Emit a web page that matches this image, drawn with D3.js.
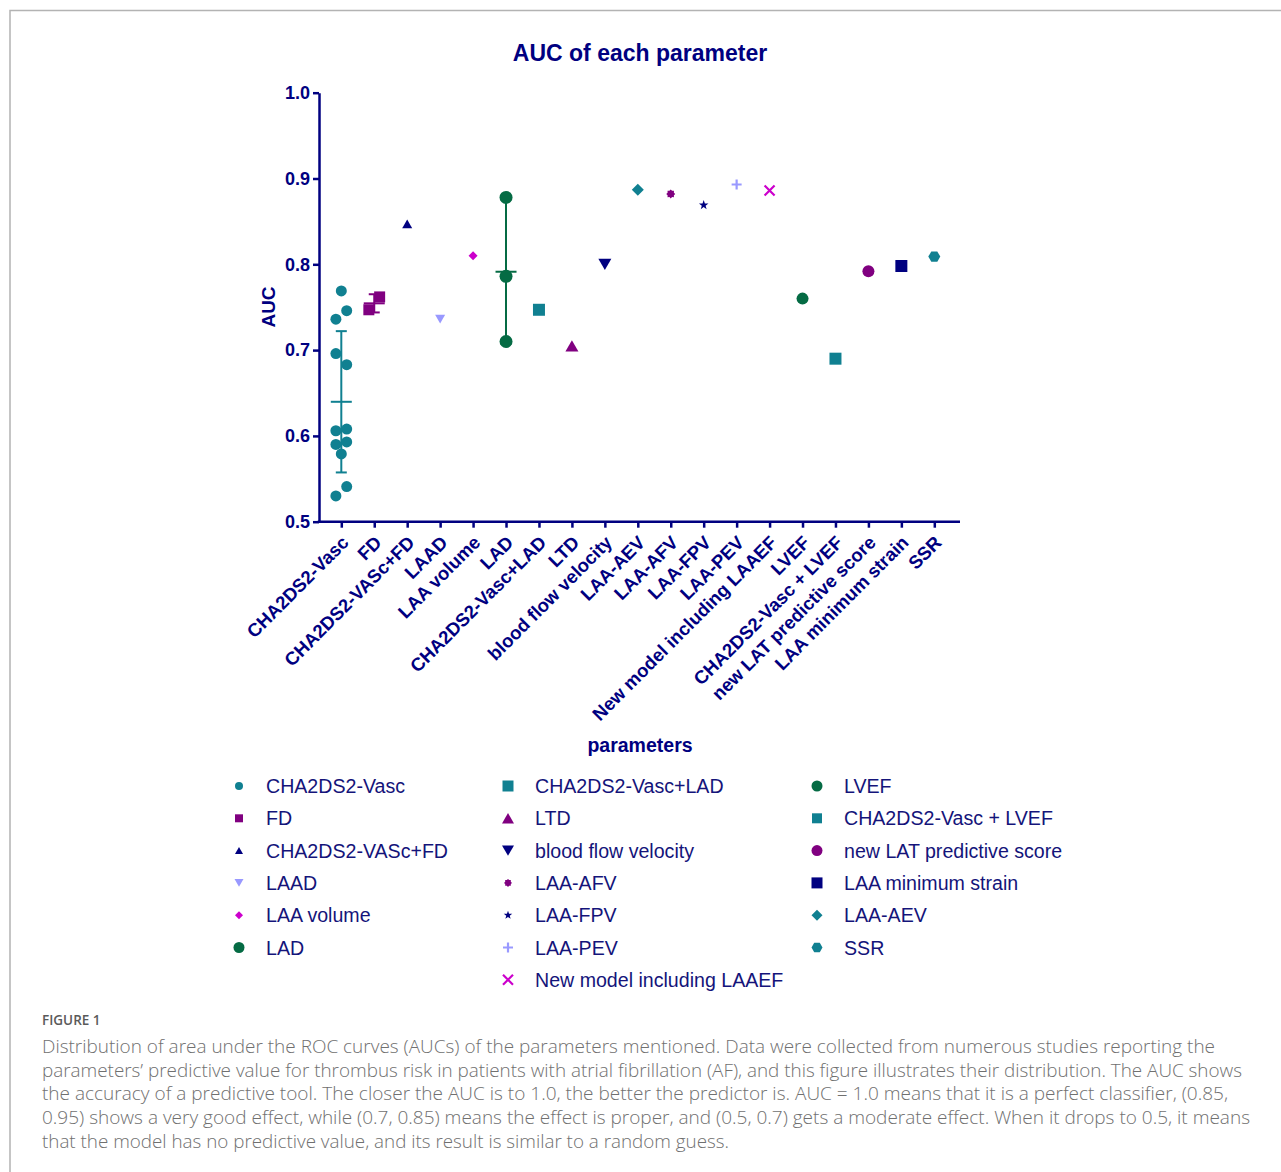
<!DOCTYPE html>
<html>
<head>
<meta charset="utf-8">
<script src="https://cdn.jsdelivr.net/npm/d3@7"></script>
<style>
  body { margin: 0; background: #fff; }
</style>
</head>
<body>
<svg width="1281" height="1172"></svg>
<script>
// parameters on the x axis
var params = ["CHA2DS2-Vasc", "FD", "CHA2DS2-VASc+FD", "LAAD", "LAA volume", "LAD",
  "CHA2DS2-Vasc+LAD", "LTD", "blood flow velocity", "LAA-AEV", "LAA-AFV", "LAA-FPV",
  "LAA-PEV", "New model including LAAEF", "LVEF", "CHA2DS2-Vasc + LVEF",
  "new LAT predictive score", "LAA minimum strain", "SSR"];

// AUC values, one list per parameter
var aucValues = [
  [0.769, 0.746, 0.736, 0.696, 0.683, 0.608, 0.606, 0.593, 0.590, 0.579, 0.541, 0.530],
  [0.747, 0.762],
  [0.847],
  [0.736],
  [0.810],
  [0.878, 0.786, 0.710],
  [0.747],
  [0.705],
  [0.800],
  [0.887],
  [0.882],
  [0.869],
  [0.893],
  [0.886],
  [0.760],
  [0.690],
  [0.792],
  [0.798],
  [0.809]
];

var yTicks = [0.5, 0.6, 0.7, 0.8, 0.9, 1.0];

// legend columns (legend order differs from axis order)
var legendCols = [
  ["CHA2DS2-Vasc", "FD", "CHA2DS2-VASc+FD", "LAAD", "LAA volume", "LAD"],
  ["CHA2DS2-Vasc+LAD", "LTD", "blood flow velocity", "LAA-AFV", "LAA-FPV", "LAA-PEV", "New model including LAAEF"],
  ["LVEF", "CHA2DS2-Vasc + LVEF", "new LAT predictive score", "LAA minimum strain", "LAA-AEV", "SSR"]
];

var captionLines = [
  "Distribution of area under the ROC curves (AUCs) of the parameters mentioned. Data were collected from numerous studies reporting the",
  "parameters\u2019 predictive value for thrombus risk in patients with atrial fibrillation (AF), and this figure illustrates their distribution. The AUC shows",
  "the accuracy of a predictive tool. The closer the AUC is to 1.0, the better the predictor is. AUC = 1.0 means that it is a perfect classifier, (0.85,",
  "0.95) shows a very good effect, while (0.7, 0.85) means the effect is proper, and (0.5, 0.7) gets a moderate effect. When it drops to 0.5, it means",
  "that the model has no predictive value, and its result is similar to a random guess."
];

// ---- styles ----
var navy = "#000080", teal = "#108091", purple = "#800080", lav = "#9999ff",
    mag = "#cc00cc", green = "#056b44";

// shape, colour, size in plot, size in legend
var styles = [
  ["circle", teal, 11, 8], ["square", purple, 11, 8], ["triUp", navy, 10, 8],
  ["triDown", lav, 10, 9], ["diamond", mag, 9, 8], ["circle", green, 13, 11],
  ["square", teal, 12, 11], ["triUp", purple, 13, 12], ["triDown", navy, 13, 12],
  ["diamond", teal, 12, 11], ["sun", purple, 9, 8], ["star", navy, 10, 9],
  ["plus", lav, 10, 10], ["x", mag, 10, 10], ["circle", green, 12, 11],
  ["square", teal, 12, 10], ["circle", purple, 12, 11], ["square", navy, 12, 11],
  ["hexagon", teal, 12, 11]
];
// sideways spread of the dots inside a column (in steps)
var jitter = { "CHA2DS2-Vasc": [0, 1, -1, -1, 1, 1, -1, 1, -1, 0, 1, -1], "FD": [-1, 1] };

function poly(ctx, pts) {
  ctx.moveTo(pts[0][0], pts[0][1]);
  for (var i = 1; i < pts.length; i++) ctx.lineTo(pts[i][0], pts[i][1]);
  ctx.closePath();
}
function radial(n, r1, r2, a0) {
  var pts = [];
  for (var i = 0; i < n; i++) {
    var a = a0 + i * Math.PI * 2 / n, r = (i % 2 && r2) ? r2 : r1;
    pts.push([r * Math.cos(a), r * Math.sin(a)]);
  }
  return pts;
}
var shapes = {
  circle: { draw: function (c, w) { c.moveTo(w / 2, 0); c.arc(0, 0, w / 2, 0, 2 * Math.PI); } },
  square: { draw: function (c, w) { c.rect(-w / 2, -w / 2, w, w); } },
  triUp: { draw: function (c, w) { var h = w * 0.87; poly(c, [[0, -h / 2], [w / 2, h / 2], [-w / 2, h / 2]]); } },
  triDown: { draw: function (c, w) { var h = w * 0.87; poly(c, [[0, h / 2], [w / 2, -h / 2], [-w / 2, -h / 2]]); } },
  diamond: { draw: function (c, w) { poly(c, [[0, -w / 2], [w / 2, 0], [0, w / 2], [-w / 2, 0]]); } },
  star: { draw: function (c, w) { poly(c, radial(10, w / 2, w / 5, -Math.PI / 2)); } },
  sun: { draw: function (c, w) { poly(c, radial(16, w / 2, w * 0.38, 0)); } },
  hexagon: { draw: function (c, w) { poly(c, radial(6, w / 2, 0, 0)); } },
  plus: { draw: function (c, w) { c.moveTo(-w / 2, 0); c.lineTo(w / 2, 0); c.moveTo(0, -w / 2); c.lineTo(0, w / 2); } },
  x: { draw: function (c, w) { var s = w / 2; c.moveTo(-s, -s); c.lineTo(s, s); c.moveTo(-s, s); c.lineTo(s, -s); } }
};
function mark(sel, st, w) {
  var stroked = st[0] === "plus" || st[0] === "x";
  sel.attr("d", d3.symbol().type(shapes[st[0]]).size(w)())
     .attr("fill", stroked ? "none" : st[1])
     .attr("stroke", stroked ? st[1] : "none")
     .attr("stroke-width", stroked ? 2.2 : 0);
}

var svg = d3.select("svg");
svg.append("path").attr("d", "M10,1172V10.5H1281").attr("fill", "none").attr("stroke", "#b3b3b3").attr("stroke-width", 1.5);

var x = d3.scalePoint().domain(params).range([341.3, 934.3]);
var y = d3.scaleLinear().domain([0.5, 1.0]).range([521.7, 92.7]);
var axisX0 = 319, axisX1 = 960;

svg.append("text").attr("x", 640).attr("y", 61).attr("text-anchor", "middle")
  .style("font", "bold 23px 'Liberation Sans', Arial, sans-serif").attr("fill", navy)
  .text("AUC of each parameter");

// y axis
var gy = svg.append("g").attr("transform", "translate(" + axisX0 + ",0)")
  .call(d3.axisLeft(y).tickValues(yTicks).tickFormat(d3.format(".1f")).tickSize(6).tickSizeOuter(0).tickPadding(3));
gy.select(".domain").attr("stroke", navy).attr("stroke-width", 2.5);
gy.selectAll(".tick line").attr("stroke", navy).attr("stroke-width", 2.5);
gy.selectAll(".tick text").attr("fill", navy).style("font", "bold 18px 'Liberation Sans', Arial, sans-serif");

// x axis
var gx = svg.append("g").attr("transform", "translate(0," + y(0.5) + ")")
  .call(d3.axisBottom(x).tickSize(6).tickSizeOuter(0));
gx.select(".domain").remove();
gx.append("line").attr("x1", axisX0 - 1.25).attr("x2", axisX1).attr("stroke", navy).attr("stroke-width", 2.5);
gx.selectAll(".tick line").attr("stroke", navy).attr("stroke-width", 2.5);
gx.selectAll(".tick text")
  .attr("y", 0).attr("dy", 0)
  .attr("text-anchor", "end")
  .attr("transform", "translate(8,22) rotate(-45)")
  .attr("fill", navy).style("font", "bold 18.5px 'Liberation Sans', Arial, sans-serif");

svg.append("text").attr("transform", "translate(275,307) rotate(-90)").attr("text-anchor", "middle")
  .style("font", "bold 19px 'Liberation Sans', Arial, sans-serif").attr("fill", navy).text("AUC");
svg.append("text").attr("x", 640).attr("y", 752).attr("text-anchor", "middle")
  .style("font", "bold 19.5px 'Liberation Sans', Arial, sans-serif").attr("fill", navy).text("parameters");

// error bars (mean +/- SD) for parameters with several studies
var plot = svg.append("g");
params.forEach(function (p, i) {
  var v = aucValues[i];
  if (v.length < 2) return;
  var m = d3.mean(v), sd = d3.deviation(v), cx = x(p), col = styles[i][1];
  var eb = plot.append("g").attr("stroke", col).attr("stroke-width", 2);
  eb.append("line").attr("x1", cx).attr("x2", cx).attr("y1", y(m - sd)).attr("y2", y(m + sd));
  eb.append("line").attr("x1", cx - 10.5).attr("x2", cx + 10.5).attr("y1", y(m)).attr("y2", y(m));
  [m - sd, m + sd].forEach(function (e) {
    eb.append("line").attr("x1", cx - 5.5).attr("x2", cx + 5.5).attr("y1", y(e)).attr("y2", y(e));
  });
});

// points
params.forEach(function (p, i) {
  var st = styles[i], jit = jitter[p] || [];
  plot.selectAll(null).data(aucValues[i]).enter().append("path")
    .attr("transform", function (d, k) { return "translate(" + (x(p) + (jit[k] || 0) * 5.4) + "," + y(d) + ")"; })
    .call(mark, st, st[2]);
});

// legend
var colX = [239, 508, 817];
legendCols.forEach(function (names, c) {
  names.forEach(function (name, r) {
    var i = params.indexOf(name), cy = 786 + r * 32.3;
    svg.append("path").attr("transform", "translate(" + colX[c] + "," + cy + ")").call(mark, styles[i], styles[i][3]);
    svg.append("text").attr("x", colX[c] + 27).attr("y", cy + 7)
      .style("font", "19.6px 'Liberation Sans', Arial, sans-serif").attr("fill", "#14147a").text(name);
  });
});

// caption
svg.append("text").attr("x", 42).attr("y", 1025).attr("fill", "#5a5a5a")
  .style("font", "600 13.5px 'Open Sans', sans-serif").text("FIGURE 1");
var capW = [1173, 1200, 1186, 1208, 687];
captionLines.forEach(function (t, i) {
  svg.append("text").attr("x", 42).attr("y", 1053 + i * 23.7).attr("fill", "#707070")
    .attr("textLength", capW[i]).attr("lengthAdjust", "spacingAndGlyphs")
    .style("font", "300 17.5px 'Open Sans', sans-serif").text(t);
});
</script>
</body>
</html>
